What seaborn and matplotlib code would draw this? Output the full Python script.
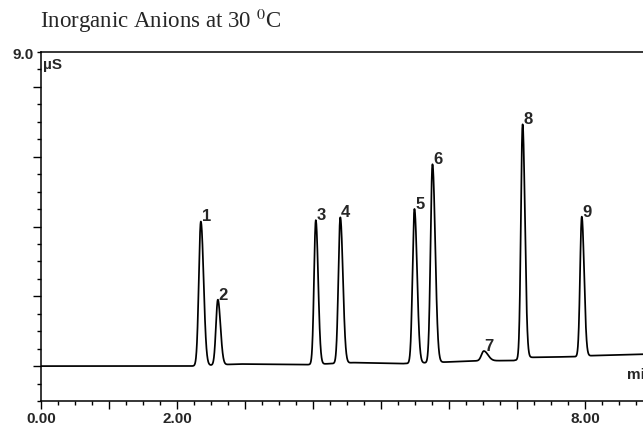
import numpy as np
import pandas as pd
import matplotlib
matplotlib.use("Agg")
import matplotlib.pyplot as plt
from matplotlib.ticker import MultipleLocator
import seaborn as sns

# ---- data ----
peak_labels = ["1", "2", "3", "4", "5", "6", "7", "8", "9"]
peak_times = [2.35, 2.60, 4.04, 4.40, 5.49, 5.755, 6.51, 7.08, 7.95]      # min
peak_heights = [4.13, 1.87, 4.13, 4.18, 4.42, 5.68, 0.28, 6.72, 4.00]     # µS above local baseline
sigma_left = [0.030, 0.028, 0.026, 0.028, 0.028, 0.028, 0.035, 0.025, 0.025]
sigma_right = [0.040, 0.038, 0.034, 0.038, 0.038, 0.040, 0.060, 0.034, 0.034]
baseline_t = [0.0, 2.2, 2.9, 3.9, 4.6, 5.3, 6.0, 6.4, 6.95, 7.2, 7.85, 8.1, 8.85]
baseline_v = [0.0, 0.0, 0.06, 0.04, 0.10, 0.07, 0.12, 0.15, 0.16, 0.25, 0.27, 0.30, 0.34]
x_tick_labels = ["0.00", "", "2.00", "", "", "", "", "", "8.00"]

# ---- build the trace ----
t = np.linspace(0, 8.85, 6000)
sig = np.interp(t, baseline_t, baseline_v)
for tp, h, sl, sr in zip(peak_times, peak_heights, sigma_left, sigma_right):
    s = np.where(t < tp, sl, sr)
    sig = sig + h * np.exp(-0.5 * ((t - tp) / s) ** 2)
df = pd.DataFrame({"t": t, "signal": sig})

sns.set_style("ticks")
plt.rcParams["font.family"] = ["Liberation Sans", "DejaVu Sans"]
plt.rcParams["mathtext.fontset"] = "stix"

W, H = 643, 431
fig = plt.figure(figsize=(W / 100, H / 100), dpi=100)
ax = fig.add_axes([41 / W, (H - 402) / H, 1 - 41 / W, (402 - 53) / H])

sns.lineplot(data=df, x="t", y="signal", color="black", linewidth=1.25, ax=ax, legend=False)

ax.set_xlim(0, 8.85)
ax.set_ylim(-1.0, 9.0)
ax.set_xlabel("")
ax.set_ylabel("")

for side in ["left", "top", "bottom"]:
    ax.spines[side].set_visible(True)
    ax.spines[side].set_color("black")
    ax.spines[side].set_linewidth(1.1)
ax.spines["right"].set_visible(False)

ax.set_xticks(range(9))
ax.set_xticklabels(x_tick_labels, fontsize=11, fontweight="bold")
ax.xaxis.set_minor_locator(MultipleLocator(0.25))
ax.set_yticks([0, 2, 4, 6, 8])
ax.set_yticklabels([])
ax.yaxis.set_minor_locator(MultipleLocator(0.5))
ax.tick_params(axis="both", which="major", direction="out", length=5.5, width=1.0, color="black", pad=2)
ax.tick_params(axis="both", which="minor", direction="out", length=3, width=1.0, color="black")
ax.tick_params(top=False, right=False, which="both")

# peak labels: left edge at the apex, bottom at the apex
for lab, tp, h in zip(peak_labels, peak_times, peak_heights):
    apex = np.interp(tp, baseline_t, baseline_v) + h
    ax.text(tp + 0.01, apex + 0.03, lab, fontsize=12, fontweight="bold",
            ha="left", va="baseline")

ax.text(0.03, 8.66, "µS", fontsize=11, fontweight="bold", ha="left", va="center")
ax.text(8.62, -0.22, "min", fontsize=11, fontweight="bold", ha="left", va="center", clip_on=False)

fig.text(34 / W, 1 - 55 / H, "9.0", fontsize=11, fontweight="bold", ha="right", va="center")
fig.text(40 / W, 1 - 21 / H, r"Inorganic Anions at 30 $^{\mathrm{0}}$C",
         fontsize=16.5, family=["Liberation Serif", "DejaVu Serif"], ha="left", va="center")

fig.savefig("out.png", dpi=100)
